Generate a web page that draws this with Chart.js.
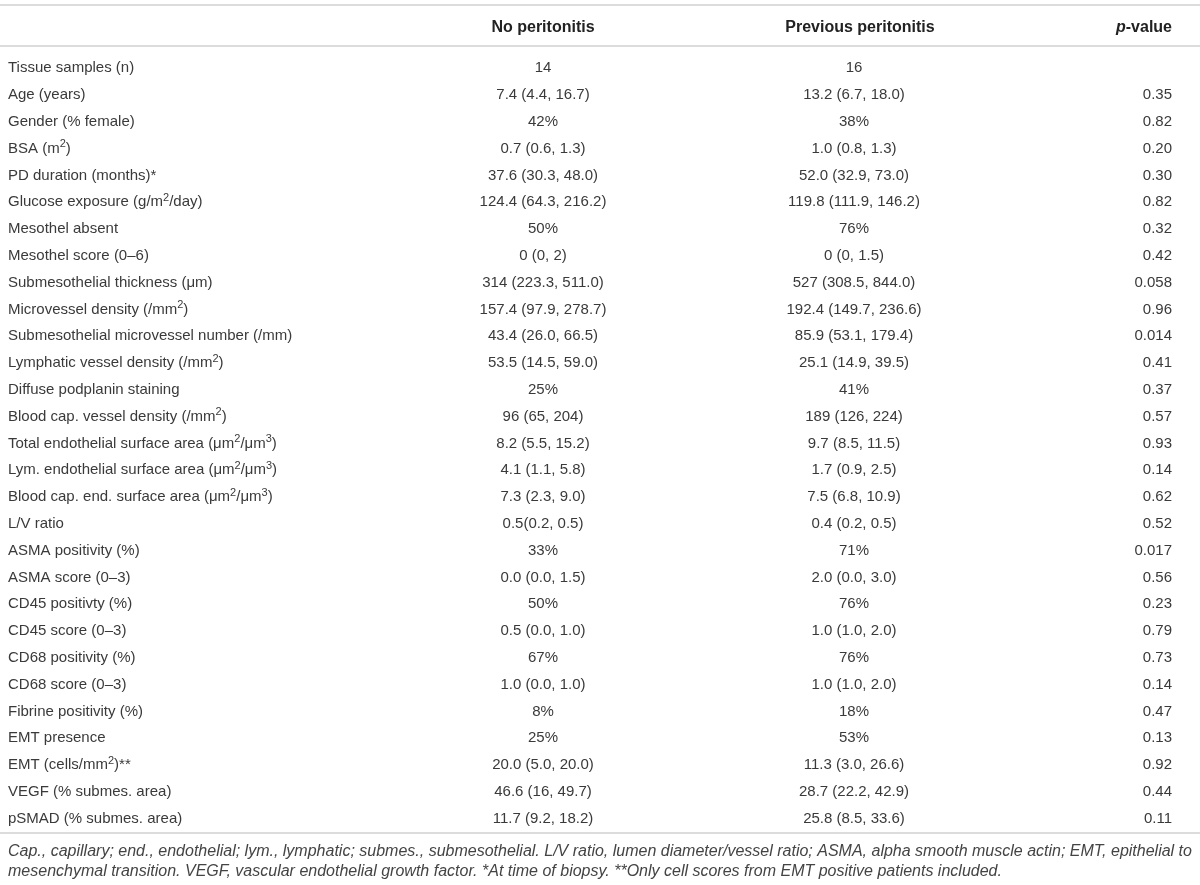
<!DOCTYPE html>
<html>
<head>
<meta charset="utf-8">
<script src="https://cdn.jsdelivr.net/npm/chart.js@4"></script>
<style>
  html, body { margin: 0; padding: 0; background: #fff; }
  canvas { display: block; }
</style>
</head>
<body>
<canvas id="tableChart" width="1200" height="885"></canvas>
<script>
var headers = ['', 'No peritonitis', 'Previous peritonitis', 'p-value'];

var rowLabels = [
  'Tissue samples (n)', 'Age (years)', 'Gender (% female)', 'BSA (m²)',
  'PD duration (months)*', 'Glucose exposure (g/m²/day)', 'Mesothel absent',
  'Mesothel score (0–6)', 'Submesothelial thickness (μm)', 'Microvessel density (/mm²)',
  'Submesothelial microvessel number (/mm)', 'Lymphatic vessel density (/mm²)',
  'Diffuse podplanin staining', 'Blood cap. vessel density (/mm²)',
  'Total endothelial surface area (μm²/μm³)', 'Lym. endothelial surface area (μm²/μm³)',
  'Blood cap. end. surface area (μm²/μm³)', 'L/V ratio', 'ASMA positivity (%)',
  'ASMA score (0–3)', 'CD45 positivty (%)', 'CD45 score (0–3)', 'CD68 positivity (%)',
  'CD68 score (0–3)', 'Fibrine positivity (%)', 'EMT presence', 'EMT (cells/mm²)**',
  'VEGF (% submes. area)', 'pSMAD (% submes. area)'
];

var noPeritonitis = [
  '14', '7.4 (4.4, 16.7)', '42%', '0.7 (0.6, 1.3)', '37.6 (30.3, 48.0)',
  '124.4 (64.3, 216.2)', '50%', '0 (0, 2)', '314 (223.3, 511.0)', '157.4 (97.9, 278.7)',
  '43.4 (26.0, 66.5)', '53.5 (14.5, 59.0)', '25%', '96 (65, 204)', '8.2 (5.5, 15.2)',
  '4.1 (1.1, 5.8)', '7.3 (2.3, 9.0)', '0.5(0.2, 0.5)', '33%', '0.0 (0.0, 1.5)', '50%',
  '0.5 (0.0, 1.0)', '67%', '1.0 (0.0, 1.0)', '8%', '25%', '20.0 (5.0, 20.0)',
  '46.6 (16, 49.7)', '11.7 (9.2, 18.2)'
];

var previousPeritonitis = [
  '16', '13.2 (6.7, 18.0)', '38%', '1.0 (0.8, 1.3)', '52.0 (32.9, 73.0)',
  '119.8 (111.9, 146.2)', '76%', '0 (0, 1.5)', '527 (308.5, 844.0)', '192.4 (149.7, 236.6)',
  '85.9 (53.1, 179.4)', '25.1 (14.9, 39.5)', '41%', '189 (126, 224)', '9.7 (8.5, 11.5)',
  '1.7 (0.9, 2.5)', '7.5 (6.8, 10.9)', '0.4 (0.2, 0.5)', '71%', '2.0 (0.0, 3.0)', '76%',
  '1.0 (1.0, 2.0)', '76%', '1.0 (1.0, 2.0)', '18%', '53%', '11.3 (3.0, 26.6)',
  '28.7 (22.2, 42.9)', '25.8 (8.5, 33.6)'
];

var pValues = [
  '', '0.35', '0.82', '0.20', '0.30', '0.82', '0.32', '0.42', '0.058', '0.96',
  '0.014', '0.41', '0.37', '0.57', '0.93', '0.14', '0.62', '0.52', '0.017', '0.56',
  '0.23', '0.79', '0.73', '0.14', '0.47', '0.13', '0.92', '0.44', '0.11'
];

var footnotes = [
  'Cap., capillary; end., endothelial; lym., lymphatic; submes., submesothelial. L/V ratio, lumen diameter/vessel ratio; ASMA, alpha smooth muscle actin; EMT, epithelial to',
  'mesenchymal transition. VEGF, vascular endothelial growth factor. *At time of biopsy. **Only cell scores from EMT positive patients included.'
];

// layout (row units on y, px-like units on x)
var ROW_PX = 26.8;
var FIRST_ROW_PX = 67;
var Y_MIN = -FIRST_ROW_PX / ROW_PX;
var Y_MAX = Y_MIN + 885 / ROW_PX;
function rowAt(px) { return (px - FIRST_ROW_PX) / ROW_PX; }

var cols = [
  { x: 8, align: 'left' },
  { x: 543, align: 'center' },
  { x: 854, align: 'center' },
  { x: 1172, align: 'right' }
];
var headerX = [0, 543, 860, 1172];
var headerRow = rowAt(26), topRule = rowAt(5), headRule = rowAt(46), bottomRule = rowAt(833);
var footRows = [rowAt(850), rowAt(870)];

var FONT = '"Liberation Sans", "Helvetica Neue", Arial, sans-serif';
var TEXT_COLOR = '#3a3a3a';
var BODY_SIZE = 15;
var HEAD_SIZE = 16;

function segments(str) {
  var out = [];
  for (var i = 0; i < str.length; i++) {
    var ch = str[i];
    var sup = ch === '²' || ch === '³';
    var t = sup ? (ch === '²' ? '2' : '3') : ch;
    if (out.length && out[out.length - 1].sup === sup) out[out.length - 1].t += t;
    else out.push({ t: t, sup: sup });
  }
  return out;
}

function drawRich(ctx, str, x, y, align, size, style) {
  if (!str) return;
  var segs = segments(str);
  var base = style + ' ' + size + 'px ' + FONT;
  var small = style + ' ' + Math.round(size * 0.7) + 'px ' + FONT;
  var w = 0;
  segs.forEach(function(s) {
    ctx.font = s.sup ? small : base;
    s.w = ctx.measureText(s.t).width;
    w += s.w;
  });
  var sx = align === 'left' ? x : align === 'right' ? x - w : x - w / 2;
  var baseline = y + size * 0.36;
  ctx.textAlign = 'left';
  ctx.textBaseline = 'alphabetic';
  segs.forEach(function(s) {
    ctx.font = s.sup ? small : base;
    ctx.fillText(s.t, sx, s.sup ? baseline - size * 0.38 : baseline);
    sx += s.w;
  });
}

var tablePlugin = {
  id: 'tableText',
  afterDatasetsDraw: function(chart) {
    var ctx = chart.ctx;
    var xs = chart.scales.x, ys = chart.scales.y;
    ctx.save();

    // horizontal rules
    ctx.strokeStyle = '#dcdcdc';
    ctx.lineWidth = 2;
    [topRule, headRule, bottomRule].forEach(function(v) {
      var py = Math.round(ys.getPixelForValue(v));
      ctx.beginPath();
      ctx.moveTo(xs.getPixelForValue(0), py);
      ctx.lineTo(xs.getPixelForValue(1200), py);
      ctx.stroke();
    });

    // header
    ctx.fillStyle = '#222';
    var hy = ys.getPixelForValue(headerRow);
    drawRich(ctx, headers[1], xs.getPixelForValue(headerX[1]), hy, 'center', HEAD_SIZE, 'bold');
    drawRich(ctx, headers[2], xs.getPixelForValue(headerX[2]), hy, 'center', HEAD_SIZE, 'bold');
    // p-value: italic p + bold rest, right aligned
    ctx.font = 'bold ' + HEAD_SIZE + 'px ' + FONT;
    var restW = ctx.measureText('-value').width;
    var px = xs.getPixelForValue(headerX[3]);
    drawRich(ctx, '-value', px, hy, 'right', HEAD_SIZE, 'bold');
    drawRich(ctx, 'p', px - restW, hy, 'right', HEAD_SIZE, 'bold italic');

    // body cells from dataset points
    ctx.fillStyle = TEXT_COLOR;
    chart.data.datasets.forEach(function(ds, di) {
      var meta = chart.getDatasetMeta(di);
      meta.data.forEach(function(pt, i) {
        drawRich(ctx, ds.texts[i], pt.x, pt.y, ds.align, BODY_SIZE, 'normal');
      });
    });

    // footnotes, sized so the first line spans the table width
    ctx.fillStyle = '#444';
    ctx.font = 'italic 13px ' + FONT;
    var fsize = 13 * 1184 / ctx.measureText(footnotes[0]).width;
    footnotes.forEach(function(line, i) {
      drawRich(ctx, line, xs.getPixelForValue(8), ys.getPixelForValue(footRows[i]), 'left', fsize, 'italic');
    });
    ctx.restore();
  }
};

var columnTexts = [rowLabels, noPeritonitis, previousPeritonitis, pValues];

var datasets = columnTexts.map(function(texts, c) {
  return {
    label: headers[c],
    texts: texts,
    align: cols[c].align,
    data: texts.map(function(t, i) { return { x: cols[c].x, y: i }; }),
    pointRadius: 0,
    pointHoverRadius: 0,
    showLine: false
  };
});

new Chart(document.getElementById('tableChart'), {
  type: 'scatter',
  data: { datasets: datasets },
  options: {
    responsive: false,
    animation: false,
    devicePixelRatio: 1,
    layout: { padding: 0 },
    events: [],
    scales: {
      x: { type: 'linear', min: 0, max: 1200, display: false },
      y: { type: 'linear', min: Y_MIN, max: Y_MAX, reverse: true, display: false }
    },
    plugins: { legend: { display: false }, tooltip: { enabled: false } }
  },
  plugins: [tablePlugin]
});
</script>
</body>
</html>
